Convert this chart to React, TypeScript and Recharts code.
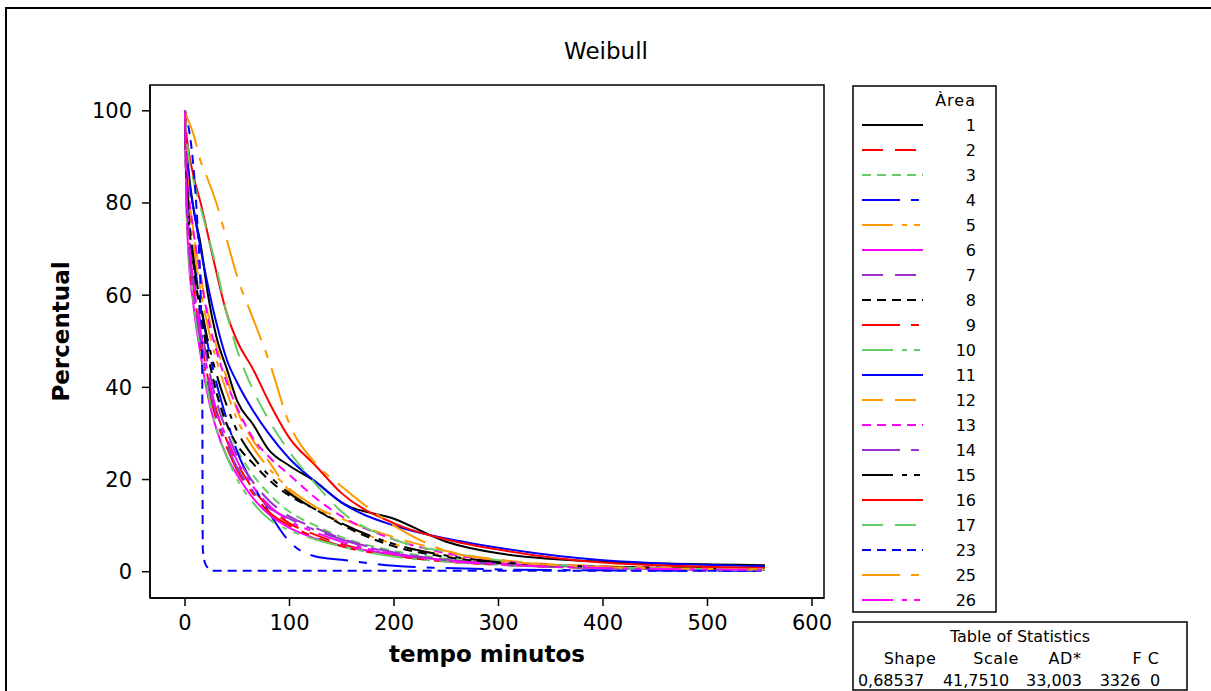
import { Label, Line, LineChart, ReferenceArea, XAxis, YAxis } from 'recharts';

// minutes sampled for most areas; area 23 has its own grid (it drops almost vertically)
const minutes = [0, 1, 3, 8, 15, 22, 30, 40, 50, 65, 80, 100, 125, 150, 200, 250, 300, 400, 555];
const minutes23 = [0, 3, 8, 12, 15, 16.5, 17, 19, 22, 25, 100, 200, 300, 400, 555];

const area1 = [100, 94, 88, 79, 71, 60, 51, 44, 37, 32, 26.5, 23, 19.5, 15, 11.5, 6.5, 4, 2.2, 1.4, 1];
const area2 = [100, 86, 74, 62, 51, 42, 35, 28.5, 23.5, 18, 14, 10.5, 8, 6, 3.5, 2.2, 1.5, 0.8, 0.5];
const area3 = [100, 88, 78, 67, 56, 47, 39, 32, 26.5, 21, 17, 13, 10, 7.5, 4.5, 2.8, 1.8, 1, 0.6];
const area4 = [100, 90, 80, 69, 58, 49, 41, 33, 26, 19, 13, 6.5, 3.3, 2.6, 1.3, 0.8, 0.5, 0.3, 0.2];
const area5 = [100, 91, 82, 71, 61, 53, 46, 39, 33, 27, 22.5, 18, 14, 10.5, 6, 3.5, 2, 1, 0.6];
const area6 = [100, 84, 70, 58, 47, 38, 31, 25, 21, 16, 12.5, 9.5, 7.2, 5.6, 3.8, 2.5, 1.8, 1, 0.6];
const area7 = [100, 88, 77, 65, 54, 45, 37, 30.5, 25, 19.5, 15.5, 12, 9.5, 7.2, 4.2, 2.6, 1.6, 0.8, 0.4];
const area8 = [100, 89, 79, 67, 56, 47, 39, 32, 27.5, 23.5, 20, 16.5, 13.5, 10.2, 5.5, 3.2, 1.9, 1, 0.6];
const area9 = [100, 85, 72, 60, 49, 40, 33, 27, 22, 17, 13, 10, 7.5, 5.5, 3.5, 2.2, 1.6, 0.9, 0.5];
const area10 = [100, 84, 71, 59, 48, 39, 31, 25, 20, 15, 11.5, 9, 7, 5.5, 3.3, 2.2, 1.5, 0.8, 0.4];
const area11 = [100, 94, 87, 79, 70, 62, 54, 46, 41, 35, 30, 24.5, 19.5, 15, 10, 7.2, 5.2, 2.5, 1.2];
const area12 = [100, 92, 84, 74, 64, 56, 49, 42, 35, 28.5, 24, 17.5, 14, 11.5, 7.5, 4.5, 2.6, 1.2, 0.7];
const area13 = [100, 92, 84, 74, 64, 55, 48, 41, 35.5, 29, 25, 21, 16, 12, 7, 4, 2.3, 1.1, 0.6];
const area14 = [100, 86, 73, 61, 50, 41, 34, 27.5, 22.5, 17.5, 14, 11.5, 9, 7, 4, 2.5, 1.6, 0.8, 0.4];
const area15 = [100, 90, 80, 68, 58, 50, 43, 36, 30.5, 25, 21, 17, 13.5, 10.5, 6, 3.5, 2.1, 1.1, 0.7];
const area16 = [100, 96, 92, 86, 80, 73, 65, 56, 50, 44, 37, 29, 23, 17, 10.5, 7, 4.8, 2, 0.8];
const area17 = [100, 96, 91, 85, 79, 73, 66, 56, 48, 39.5, 33, 26, 19, 13, 7, 4.3, 2.5, 1, 0.5];
const area23 = [100, 97, 88, 75, 60, 42, 5, 2, 0.8, 0.2, 0.2, 0.2, 0.2, 0.2, 0.2];
const area25 = [100, 99, 98, 95, 89, 85, 80, 72, 64, 55, 46, 32, 23.5, 18.5, 10, 4.5, 2.5, 1, 0.5];
const area26 = [100, 87, 75, 63, 52, 43, 35, 29, 24, 18.5, 14.5, 11, 8.5, 6.5, 3.8, 2.4, 1.6, 0.8, 0.4];

const xTicks = [0, 100, 200, 300, 400, 500, 600];
const yTicks = [0, 20, 40, 60, 80, 100];

const statHeaders = ['Shape', 'Scale', 'AD*', 'F C'];
const statValues = ['0,68537', '41,7510', '33,003', '3326', '0'];

const series = [
  { name: '1', times: minutes, values: area1 },
  { name: '2', times: minutes, values: area2 },
  { name: '3', times: minutes, values: area3 },
  { name: '4', times: minutes, values: area4 },
  { name: '5', times: minutes, values: area5 },
  { name: '6', times: minutes, values: area6 },
  { name: '7', times: minutes, values: area7 },
  { name: '8', times: minutes, values: area8 },
  { name: '9', times: minutes, values: area9 },
  { name: '10', times: minutes, values: area10 },
  { name: '11', times: minutes, values: area11 },
  { name: '12', times: minutes, values: area12 },
  { name: '13', times: minutes, values: area13 },
  { name: '14', times: minutes, values: area14 },
  { name: '15', times: minutes, values: area15 },
  { name: '16', times: minutes, values: area16 },
  { name: '17', times: minutes, values: area17 },
  { name: '23', times: minutes23, values: area23 },
  { name: '25', times: minutes, values: area25 },
  { name: '26', times: minutes, values: area26 },
];

// minitab cycles colours (7) and line types (5) independently
const COLORS = ['#000000', '#ff0000', '#66cc66', '#0000ff', '#ff9900', '#ff00ff', '#9933cc'];
const DASHES = [undefined, '21 12', '9 6', '38 11 8 11', '31 9 5 7 6 9'];

const styleOf = (i: number) => ({ color: COLORS[i % COLORS.length], dash: DASHES[i % DASHES.length] });

const allTimes = Array.from(new Set([...minutes, ...minutes23])).sort((a, b) => a - b);
const rows = allTimes.map((t) => {
  const row: Record<string, number | undefined> = { t };
  series.forEach((s) => {
    const k = s.times.indexOf(t);
    row['a' + s.name] = k >= 0 ? s.values[k] : undefined;
  });
  return row;
});

const FONT = '"DejaVu Sans", Verdana, sans-serif';

const YTitle = ({ viewBox }: any) => {
  const cx = 61;
  const cy = viewBox ? viewBox.y + viewBox.height / 2 - 10 : 331;
  return (
    <text x={cx} y={cy} transform={`rotate(-90 ${cx} ${cy})`} textAnchor="middle" dominantBaseline="central"
      style={{ fontSize: 23, fontWeight: 'bold', fill: '#000', fontFamily: FONT }}>
      Percentual
    </text>
  );
};

export default function App() {
  return (
    <div style={{ position: 'relative', width: 1211, height: 691, overflow: 'hidden', background: '#fff', fontFamily: FONT }}>
      <style>{'html, body { margin: 0; padding: 0; overflow: hidden; }'}</style>
      <div style={{ position: 'absolute', left: 5, top: 7, width: 1300, height: 800, border: '2px solid #000' }} />
      <div style={{ position: 'absolute', left: 456, top: 38, width: 300, textAlign: 'center', fontSize: 23, color: '#000' }}>Weibull</div>

      <LineChart width={1211} height={691} data={rows} margin={{ top: 85, right: 387, bottom: 0, left: 0 }}
        style={{ position: 'absolute', left: 0, top: 0 }}>
        <XAxis dataKey="t" type="number" domain={[-33.5, 611.5]} ticks={xTicks} allowDataOverflow height={93}
          tickSize={8} tickMargin={9} stroke="#000" strokeWidth={1.5}
          tick={{ fontSize: 21, fill: '#000', fontFamily: FONT }}
          label={{ value: 'tempo minutos', position: 'insideBottom', offset: 29, style: { fontSize: 23, fontWeight: 'bold', fill: '#000', fontFamily: FONT } }} />
        <YAxis type="number" domain={[-5.7, 105.6]} ticks={yTicks} allowDataOverflow width={150}
          tickSize={8} tickMargin={10} stroke="#000" strokeWidth={1.5}
          tick={{ fontSize: 21, fill: '#000', fontFamily: FONT }}>
          <Label content={YTitle} />
        </YAxis>
        <ReferenceArea x1={-33.5} x2={611.5} y1={-5.7} y2={105.6} fill="none" stroke="#000" strokeWidth={1.5} ifOverflow="visible" />
        {series.map((s, i) => {
          const st = styleOf(i);
          return (
            <Line key={s.name} dataKey={'a' + s.name} type="monotone" connectNulls dot={false} activeDot={false}
              stroke={st.color} strokeWidth={2} strokeDasharray={st.dash} isAnimationActive={false} />
          );
        })}
      </LineChart>

      <svg width={145} height={528} style={{ position: 'absolute', left: 852, top: 85 }}>
        <rect x={1} y={1} width={143} height={526} fill="#fff" stroke="#000" strokeWidth={1.5} />
        <text x={124} y={15} textAnchor="end" dominantBaseline="central" style={{ fontSize: 16, fontFamily: FONT, letterSpacing: 1 }}>Àrea</text>
        {series.map((s, i) => {
          const st = styleOf(i);
          const y = 40 + i * 25;
          return (
            <g key={s.name}>
              <line x1={10} x2={71} y1={y} y2={y} stroke={st.color} strokeWidth={2} strokeDasharray={st.dash} />
              <text x={124} y={y} textAnchor="end" dominantBaseline="central" style={{ fontSize: 16, fontFamily: FONT }}>{s.name}</text>
            </g>
          );
        })}
      </svg>

      <svg width={336} height={70} style={{ position: 'absolute', left: 852, top: 621 }}>
        <rect x={1} y={1} width={334} height={68} fill="#fff" stroke="#000" strokeWidth={1.5} />
        <text x={168} y={15} textAnchor="middle" dominantBaseline="central" style={{ fontSize: 16, fontFamily: FONT }}>Table of Statistics</text>
        {statHeaders.map((h, i) => (
          <text key={h} x={[58, 144, 213, 294][i]} y={37} textAnchor="middle" dominantBaseline="central"
            style={{ fontSize: 16, fontFamily: FONT, letterSpacing: 0.5 }}>{h}</text>
        ))}
        {statValues.map((v, i) => (
          <text key={i} x={[39, 124, 202, 268, 303][i]} y={59} textAnchor="middle" dominantBaseline="central"
            style={{ fontSize: 16, fontFamily: FONT }}>{v}</text>
        ))}
      </svg>
    </div>
  );
}
